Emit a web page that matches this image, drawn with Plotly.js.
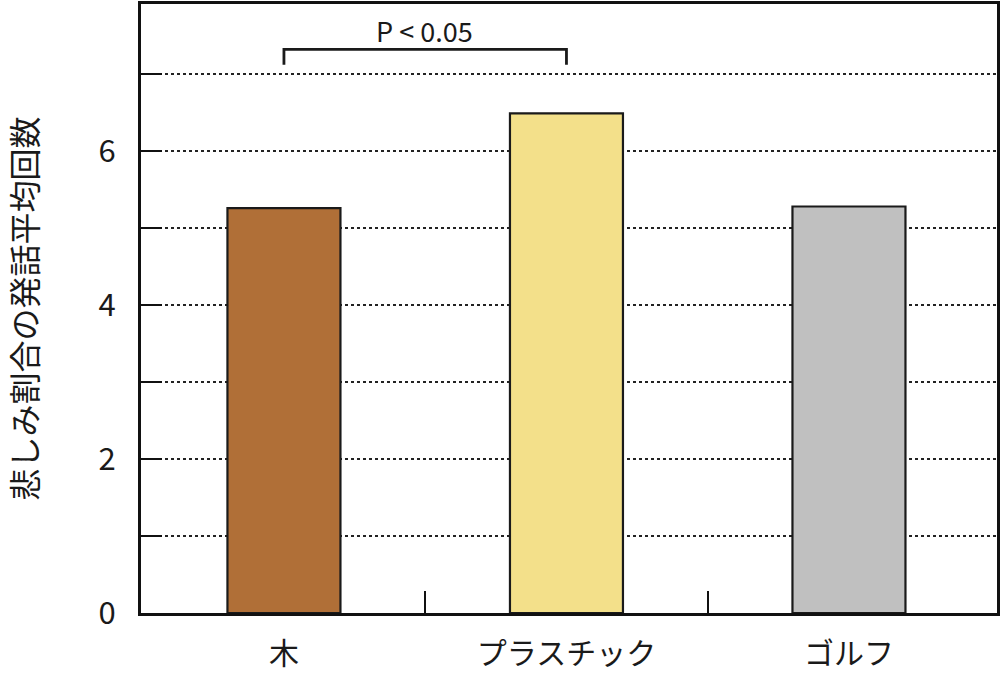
<!DOCTYPE html>
<html>
<head>
<meta charset="utf-8">
<script src="https://cdn.plot.ly/plotly-3.0.1.min.js"></script>
<style>
  html, body { margin: 0; padding: 0; background: #fff; }
  #chart { width: 1000px; height: 697px; }
</style>
</head>
<body>
<div id="chart"></div>
<script>
// データ
const categorias = ['木', 'プラスチック', 'ゴルフ'];
const valores = [5.26, 6.49, 5.28];
const colores = ['#B06F37', '#F3E08A', '#C0C0C0'];

// 目盛り
const yTickVals = [0, 1, 2, 3, 4, 5, 6, 7];
const yTickText = ['0', '', '2', '', '4', '', '6', ''];
const limites = [0.5, 1.5];   // カテゴリ境界の目盛り

// 有意差の括弧
const corcheteX = ['木', '木', 'プラスチック', 'プラスチック'];
const corcheteY = [7.12, 7.32, 7.32, 7.12];
const textoP = 'P < 0.05';

const fuente = '"Noto Sans CJK JP", "Noto Sans", sans-serif';
const rangoX = [-0.506, 2.524];

const traces = [
    {
        x: categorias,
        y: valores,
        type: 'bar',
        width: 0.4,
        marker: { color: colores, line: { color: '#1a1a1a', width: 2.2 } },
        hoverinfo: 'x+y'
    },
    {
        x: corcheteX,
        y: corcheteY,
        type: 'scatter',
        mode: 'lines',
        line: { color: '#1a1a1a', width: 2.8 },
        hoverinfo: 'skip'
    },
    // eje auxiliar solo para las marcas de los límites
    {
        x: limites,
        y: [0, 0],
        xaxis: 'x2',
        type: 'scatter',
        mode: 'markers',
        marker: { opacity: 0 },
        hoverinfo: 'skip'
    }
];

const layout = {
    width: 1000,
    height: 697,
    margin: { l: 141, r: 3, t: 4, b: 84 },
    paper_bgcolor: '#fff',
    plot_bgcolor: '#fff',
    showlegend: false,
    font: { family: fuente, color: '#1a1a1a', size: 30 },
    xaxis: {
        type: 'category',
        range: rangoX,
        showline: true,
        linecolor: '#111',
        linewidth: 3,
        mirror: true,
        ticks: '',
        showgrid: false,
        zeroline: false,
        tickfont: { size: 30, family: fuente, color: '#1a1a1a' },
        ticklabelstandoff: 12
    },
    xaxis2: {
        overlaying: 'x',
        range: rangoX,
        tickvals: limites,
        showticklabels: false,
        ticks: 'inside',
        ticklen: 22,
        tickwidth: 2,
        tickcolor: '#111',
        showgrid: false,
        zeroline: false,
        showline: false,
        side: 'bottom'
    },
    yaxis: {
        range: [0, 7.91],
        tickvals: yTickVals,
        ticktext: yTickText,
        ticks: 'inside',
        ticklen: 21,
        tickwidth: 2,
        tickcolor: '#111',
        showline: true,
        linecolor: '#111',
        linewidth: 3,
        mirror: true,
        showgrid: true,
        gridcolor: '#222',
        gridwidth: 1.5,
        griddash: 'dot',
        zeroline: false,
        tickfont: { size: 31, family: fuente, color: '#1a1a1a' },
        ticklabelstandoff: 16,
        title: {
            text: '悲しみ割合の発話平均回数',
            font: { size: 32, family: fuente, color: '#1a1a1a' },
            standoff: 62
        }
    },
    annotations: [
        {
            x: 0.496,
            y: 7.56,
            xref: 'x',
            yref: 'y',
            text: textoP,
            showarrow: false,
            font: { size: 27, family: fuente, color: '#1a1a1a' }
        }
    ]
};

Plotly.newPlot('chart', traces, layout, { displayModeBar: false, staticPlot: true });
</script>
</body>
</html>
